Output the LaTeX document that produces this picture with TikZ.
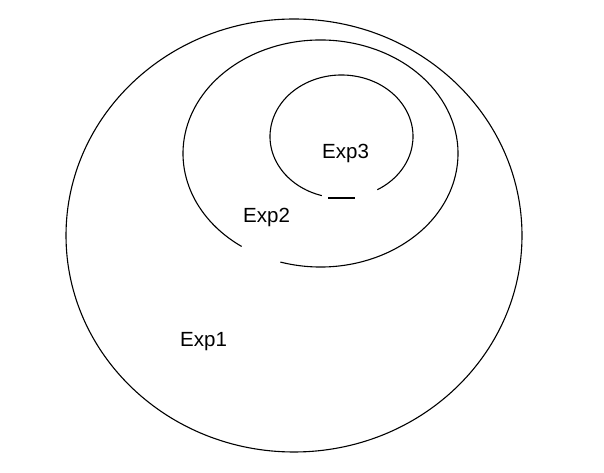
\documentclass[tikz,border=0pt]{standalone}
\usepackage{fontspec}
\setmainfont{Liberation Sans}
\begin{document}
\begin{tikzpicture}[x=1pt,y=1pt,
  curve/.style={line width=1.1pt},
  lbl/.style={font=\fontsize{20.5}{24}\selectfont, anchor=base west, inner sep=0pt}]
\useasboundingbox (0,0) rectangle (604,473);

% Exp1
\draw[curve] (294,237.5) ellipse [x radius=228pt, y radius=216.5pt];
\node[lbl] (exp1) at (180,126) {Exp1};

% Exp2, open at the lower left
\draw[curve] (320.5,319.5) ++(253:137.5pt and 113.5pt)
  arc[start angle=253, end angle=595, x radius=137.5pt, y radius=113.5pt];
\node[lbl] (exp2) at (243,250) {Exp2};

% Exp3, open at the bottom
\draw[curve] (341.5,336.5) ++(300:71.5pt and 61.5pt)
  arc[start angle=300, end angle=614, x radius=71.5pt, y radius=61.5pt];
\draw[curve] (328,275) -- (355,275);
\node[lbl] (exp3) at (322,314) {Exp3};
\end{tikzpicture}
\end{document}
